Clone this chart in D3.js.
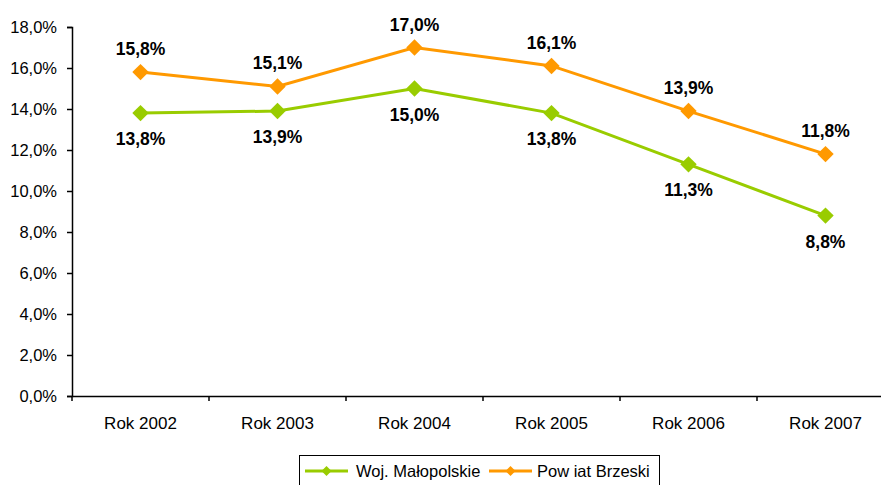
<!DOCTYPE html>
<html><head><meta charset="utf-8">
<script src="https://cdn.jsdelivr.net/npm/d3@7"></script>
<style>body{margin:0;background:#fff;overflow:hidden}svg{display:block;font-family:"Liberation Sans",Arial,sans-serif}</style>
</head><body><svg id="c" width="881" height="485"></svg>
<script>
const categories = ["Rok 2002","Rok 2003","Rok 2004","Rok 2005","Rok 2006","Rok 2007"];
const wojMalopolskie = [13.8, 13.9, 15.0, 13.8, 11.3, 8.8];
const powiatBrzeski = [15.8, 15.1, 17.0, 16.1, 13.9, 11.8];
const yTicks = [0,2,4,6,8,10,12,14,16,18];
const seriesNames = ["Woj. Małopolskie","Pow iat Brzeski"];
const seriesColors = ["#99CC00","#FF9900"];

const svg = d3.select("#c");
const x0 = 72, bw = 137;
const x = d3.scaleBand().domain(categories).range([x0, x0 + bw*categories.length]);
const y = d3.scaleLinear().domain([0,18]).range([396,27]);
const fmt = v => v.toFixed(1).replace(".", ",") + "%";
const FF = "Liberation Sans, Arial, sans-serif";

// y axis
const ya = svg.append("g").attr("transform",`translate(${x0},0)`)
  .call(d3.axisLeft(y).tickValues(yTicks).tickSize(5).tickPadding(10).tickFormat(fmt));
ya.select(".domain").attr("stroke","#000").attr("stroke-width",1.5);
ya.selectAll(".tick line").attr("stroke","#000").attr("stroke-width",1.5);
ya.selectAll(".tick text").attr("font-size",16.5).attr("fill","#000").attr("font-family",FF);

// x axis
const xa = svg.append("g").attr("transform",`translate(0,${y(0)})`)
  .call(d3.axisBottom(x).tickSize(0).tickPadding(21));
xa.select(".domain").attr("stroke","#000").attr("stroke-width",1.5);
xa.selectAll(".tick text").attr("font-size",17).attr("fill","#000").attr("font-family",FF);
const bounds = d3.range(categories.length+1).map(i => x0 + i*x.step());
svg.append("g").selectAll("line").data(bounds).join("line")
  .attr("x1",d=>d).attr("x2",d=>d).attr("y1",y(0)).attr("y2",y(0)+5)
  .attr("stroke","#000").attr("stroke-width",1.5);

const cx = c => x(c) + x.bandwidth()/2;

function drawSeries(vals, color, above){
  const g = svg.append("g");
  g.append("path").datum(vals)
    .attr("d", d3.line().x((d,i)=>cx(categories[i])).y(d=>y(d)))
    .attr("fill","none").attr("stroke",color).attr("stroke-width",3);
  g.selectAll("path.m").data(vals).join("path").attr("class","m")
    .attr("d", d3.symbol().type(d3.symbolSquare).size(135))
    .attr("transform",(d,i)=>`translate(${cx(categories[i])},${y(d)}) rotate(45)`)
    .attr("fill",color);
  g.selectAll("text").data(vals).join("text")
    .attr("x",(d,i)=>cx(categories[i]))
    .attr("y",d=> above ? y(d)-17 : y(d)+32)
    .attr("text-anchor","middle").attr("font-size",17.5).attr("font-weight","bold")
    .attr("fill","#000").text(fmt);
}
drawSeries(wojMalopolskie, seriesColors[0], false);
drawSeries(powiatBrzeski, seriesColors[1], true);

// legend
const lg = svg.append("g");
lg.append("rect").attr("x",299.5).attr("y",455.5).attr("width",360).attr("height",40)
  .attr("fill","#fff").attr("stroke","#000").attr("stroke-width",1);
const items = [{x:305, tx:356},{x:489, tx:537}];
items.forEach((it,i)=>{
  lg.append("line").attr("x1",it.x).attr("x2",it.x+43).attr("y1",471).attr("y2",471)
    .attr("stroke",seriesColors[i]).attr("stroke-width",3);
  lg.append("path").attr("d", d3.symbol().type(d3.symbolSquare).size(50))
    .attr("transform",`translate(${it.x+21.5},471) rotate(45)`).attr("fill",seriesColors[i]);
  lg.append("text").attr("x",it.tx).attr("y",477).attr("font-size",16.5).attr("fill","#000")
    .attr("font-family",FF).text(seriesNames[i]);
});
</script></body></html>
